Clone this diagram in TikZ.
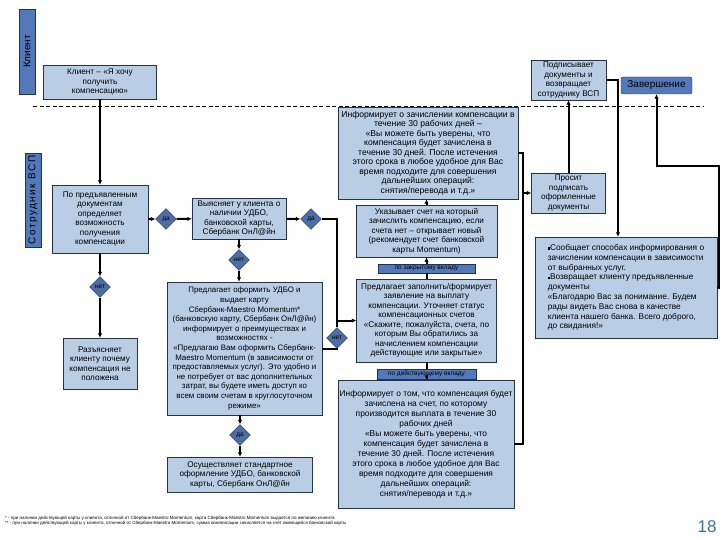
\documentclass[tikz,border=0pt]{standalone}
\usepackage{fontspec}
\setmainfont{Liberation Sans}
\newfontfamily\spacedfont[LetterSpace=15]{Liberation Sans}
\usetikzlibrary{arrows.meta, shapes.geometric}

\definecolor{boxfill}{HTML}{B9CDE5}
\definecolor{lanefill}{HTML}{5479BA}
\definecolor{decfill}{HTML}{4C6DA6}
\definecolor{boxline}{HTML}{26324A}
\definecolor{pagenum}{HTML}{3B7493}

\newcommand{\sqbullet}{\rule[1pt]{2.2pt}{2.2pt}}

\begin{document}
\begin{tikzpicture}[
  x=1pt, y=-1pt,
  box/.style={rectangle, draw=boxline, fill=boxfill, align=center, inner sep=1pt, font=\fontsize{8.2}{9.5}\selectfont},
  lane/.style={rectangle, draw=boxline, fill=lanefill, rotate=90, inner sep=0pt, minimum height=16pt, font=\fontsize{10}{11}\selectfont},
  dec/.style={diamond, draw=boxline, fill=decfill, inner sep=0pt, minimum width=21pt, minimum height=21pt, font=\fontsize{6.5}{7}\selectfont},
  tag/.style={rectangle, draw=boxline, fill=lanefill, inner sep=0pt, minimum height=9.5pt, font=\fontsize{6.5}{7}\selectfont},
  conn/.style={line width=2pt},
  arr/.style={conn, -{Latex[length=4.5pt, width=4.5pt]}}
]
  \useasboundingbox (0,0) rectangle (720,540);

  % lanes
  \node[lane, minimum width=85pt] (laneclient) at (27,51.5) {Клиент};
  \node[lane, minimum width=94pt, font=\fontsize{10}{11}\spacedfont] (lanestaff) at (33,200) {Сотрудник ВСП};
  \draw[dash pattern=on 4pt off 2.5pt, line width=0.8pt] (33,106) -- (703,106);

  % client lane
  \node[box, minimum width=113pt, minimum height=34pt] (want) at (100,82) {Клиент – «Я хочу\\получить\\компенсацию»};
  \node[box, minimum width=75pt, minimum height=40pt] (sign) at (568.5,80) {Подписывает\\документы и\\возвращает\\сотруднику ВСП};
  \node[box, fill=lanefill, rounded corners=2pt, minimum width=71pt, minimum height=17pt, font=\fontsize{10}{11}\selectfont] (finish) at (656.5,85.5) {Завершение};

  % staff lane
  \node[box, minimum width=96pt, minimum height=68pt] (check) at (100,219) {По предъявленным\\документам\\определяет\\возможность\\получения\\компенсации};
  \node[box, minimum width=94pt, minimum height=41pt] (ask) at (239,218.5) {Выясняет у клиента о\\наличии УДБО,\\банковской карты,\\Сбербанк ОнЛ@йн};
  \node[box, minimum width=74pt, minimum height=51pt] (explain) at (100,363.5) {Разъясняет\\клиенту почему\\компенсация не\\положена};
  \node[box, minimum width=155pt, minimum height=133pt, font=\fontsize{7.9}{9.6}\selectfont] (offer) at (244.5,348.5) {Предлагает оформить УДБО и\\выдает карту\\Сбербанк-Maestro Momentum*\\(банковскую карту, Сбербанк ОнЛ@йн)\\информирует о преимуществах и\\возможностях -\\«Предлагаю Вам оформить Сбербанк-\\Maestro Momentum (в зависимости от\\предоставляемых услуг). Это удобно и\\не потребует от вас дополнительных\\затрат, вы будете иметь доступ ко\\всем своим счетам в круглосуточном\\режиме»};
  \node[box, minimum width=145pt, minimum height=35pt] (standard) at (240,474.5) {Осуществляет стандартное\\оформление УДБО, банковской\\карты, Сбербанк ОнЛ@йн};
  \node[box, minimum width=180pt, minimum height=92pt, font=\fontsize{8.6}{9.5}\selectfont] (inform) at (428,153) {Информирует о зачислении компенсации в\\течение 30 рабочих дней –\\«Вы можете быть уверены, что\\компенсация будет зачислена в\\течение 30 дней. После истечения\\этого срока в любое удобное для Вас\\время подходите для совершения\\дальнейших операций:\\снятия/перевода и т.д.»};
  \node[box, minimum width=141pt, minimum height=52pt] (account) at (426.5,231) {Указывает счет на который\\зачислить компенсацию, если\\счета нет – открывает новый\\(рекомендует счет банковской\\карты Momentum)};
  \node[tag, minimum width=97pt] (closed) at (426.5,268.5) {по закрытому вкладу};
  \node[box, minimum width=140pt, minimum height=83pt] (apply) at (426.5,320.5) {Предлагает заполнить/формирует\\заявление на выплату\\компенсации. Уточняет статус\\компенсационных счетов\\«Скажите, пожалуйста, счета, по\\которым Вы обратились за\\начислением компенсации\\действующие или закрытые»};
  \node[tag, minimum width=99pt] (active) at (426.5,374) {по действующему вкладу};
  \node[box, minimum width=176pt, minimum height=128pt, font=\fontsize{8.4}{10}\selectfont] (notify) at (426,444) {Информирует о том, что компенсация будет\\зачислена на счет, по которому\\производится выплата в течение 30\\рабочих дней\\«Вы можете быть уверены, что\\компенсация будет зачислена в\\течение 30 дней. После истечения\\этого срока в любое удобное для Вас\\время подходите для совершения\\дальнейших операций:\\снятия/перевода и т.д.»};
  \node[box, minimum width=74pt, minimum height=40pt] (request) at (568.5,193) {Просит\\подписать\\оформленные\\документы};
  \node[box, align=left, minimum width=182pt, minimum height=101pt, font=\fontsize{8.3}{9.8}\selectfont] (report) at (626,287.5) {\sqbullet Сообщает способах информирования о\\зачислении компенсации в зависимости\\от выбранных услуг.\\\sqbullet Возвращает клиенту предъявленные\\документы\\«Благодарю Вас за понимание. Будем\\рады видеть Вас снова в качестве\\клиента нашего банка. Всего доброго,\\до свидания!»};

  % decisions
  \node[dec] (d1) at (166,219) {да};
  \node[dec] (d2) at (311,219) {да};
  \node[dec] (d3) at (239,260) {нет};
  \node[dec] (d4) at (100,287) {нет};
  \node[dec] (d5) at (240,435) {да};
  \node[dec] (d6) at (337,338) {нет};

  \coordinate (join) at (d6.north |- apply.west);
  \coordinate (bus) at (523,193);
  \coordinate (turn) at (719,166);

  % connectors
  \draw[arr] (want) -- (check);
  \draw[arr] (check) -- (d1);
  \draw[arr] (d1) -- (ask);
  \draw[arr] (ask) -- (d2);
  \draw[conn] (d2.east) -| (join);
  \draw[conn] (offer.east) -| (d6.south);
  \draw[arr] (d6.north) |- (apply.west);
  \draw[arr] (ask) -- (d3);
  \draw[arr] (d3) -- (d3 |- offer.north);
  \draw[arr] (check) -- (d4);
  \draw[arr] (d4) -- (explain);
  \draw[arr] (d5 |- offer.south) -- (d5);
  \draw[arr] (d5) -- (standard);
  \draw[conn] (apply) -- (closed);
  \draw[arr] (closed) -- (account);
  \draw[arr] (account) -- (account |- inform.south);
  \draw[conn] (apply) -- (active);
  \draw[arr] (active) -- (active |- notify.north);
  \draw[conn] (inform.east) -| (bus);
  \draw[conn] (notify.east) -| (bus);
  \draw[arr] (bus) -- (request);
  \draw[arr] (request) -- (sign);
  \draw[arr] (sign.east) -| ([xshift=-8pt]report.north);
  \draw[arr] (report.east) -| (turn) -| (finish.south);

  % footer
  \node[anchor=north west, align=left, inner sep=0pt, font=\fontsize{4.5}{5}\selectfont] (notes) at (5,516) {* - при наличии действующей карты у клиента, отличной от Сбербанк-Maestro Momentum, карта Сбербанк-Maestro Momentum выдается по желанию клиента\\** - при наличии действующей карты у клиента, отличной от Сбербанк-Maestro Momentum, сумма компенсации зачисляется на счет имеющейся банковской карты};
  \node[text=pagenum, inner sep=0pt, font=\fontsize{17}{18}\selectfont] (page) at (707,527) {18};
\end{tikzpicture}
\end{document}
